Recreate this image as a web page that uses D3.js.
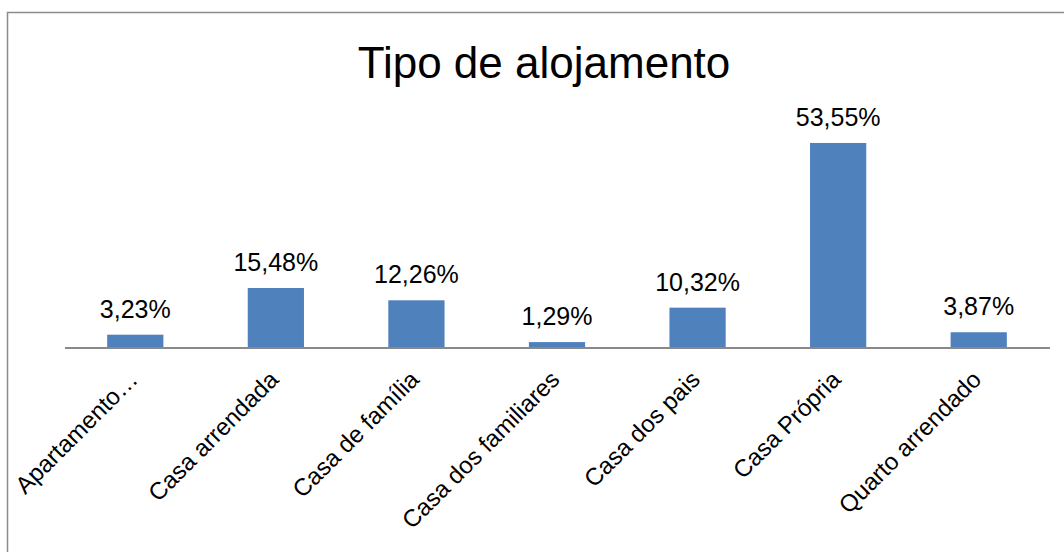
<!DOCTYPE html>
<html>
<head>
<meta charset="utf-8">
<script src="https://cdn.jsdelivr.net/npm/d3@7"></script>
<style>
  body { margin: 0; background: #fff; }
  svg { display: block; font-family: "Liberation Sans", Arial, sans-serif; }
</style>
</head>
<body>
<svg id="chart" width="1064" height="552"></svg>
<script>
// data
const categories = ['Apartamento…', 'Casa arrendada', 'Casa de família', 'Casa dos familiares',
  'Casa dos pais', 'Casa Própria', 'Quarto arrendado'];
const values = [3.23, 15.48, 12.26, 1.29, 10.32, 53.55, 3.87];
const valueLabels = ['3,23%', '15,48%', '12,26%', '1,29%', '10,32%', '53,55%', '3,87%'];

const svg = d3.select('#chart');

// outer frame (runs off the right and bottom edge)
svg.append('rect')
  .attr('x', 7.5).attr('y', 12.5)
  .attr('width', 1200).attr('height', 700)
  .attr('fill', 'none')
  .attr('stroke', '#8c8c8c')
  .attr('stroke-width', 1.5);

svg.append('text')
  .attr('x', 544).attr('y', 78)
  .attr('text-anchor', 'middle')
  .attr('font-size', 44)
  .attr('fill', '#000')
  .text('Tipo de alojamento');

const baseY = 347;
const x = d3.scaleBand().domain(categories).range([65, 1049]).paddingInner(0.6).paddingOuter(0.3);
const y = d3.scaleLinear().domain([0, 60]).range([baseY, baseY - 3.81 * 60]);

const data = categories.map((c, i) => ({ name: c, value: values[i], label: valueLabels[i] }));

svg.selectAll('.bar')
  .data(data)
  .enter().append('rect')
  .attr('class', 'bar')
  .attr('x', d => x(d.name))
  .attr('y', d => y(d.value))
  .attr('width', x.bandwidth())
  .attr('height', d => baseY - y(d.value))
  .attr('fill', '#4f81bd');

svg.selectAll('.val')
  .data(data)
  .enter().append('text')
  .attr('class', 'val')
  .attr('x', d => x(d.name) + x.bandwidth() / 2)
  .attr('y', d => y(d.value) - 17)
  .attr('text-anchor', 'middle')
  .attr('font-size', 25)
  .attr('fill', '#000')
  .text(d => d.label);

const xAxis = d3.axisBottom(x).tickSize(0).tickSizeOuter(0);
const gx = svg.append('g')
  .attr('transform', 'translate(0,' + (baseY + 1) + ')')
  .call(xAxis);
gx.select('.domain')
  .attr('stroke', '#898989')
  .attr('stroke-width', 2)
  .attr('d', 'M65,0H1050');
gx.selectAll('.tick text')
  .attr('font-family', '"Liberation Sans", Arial, sans-serif')
  .attr('font-size', 24)
  .attr('fill', '#000')
  .attr('text-anchor', 'end')
  .attr('x', 0).attr('y', 0).attr('dy', null)
  .attr('transform', 'translate(4,33) rotate(-45)');
</script>
</body>
</html>
